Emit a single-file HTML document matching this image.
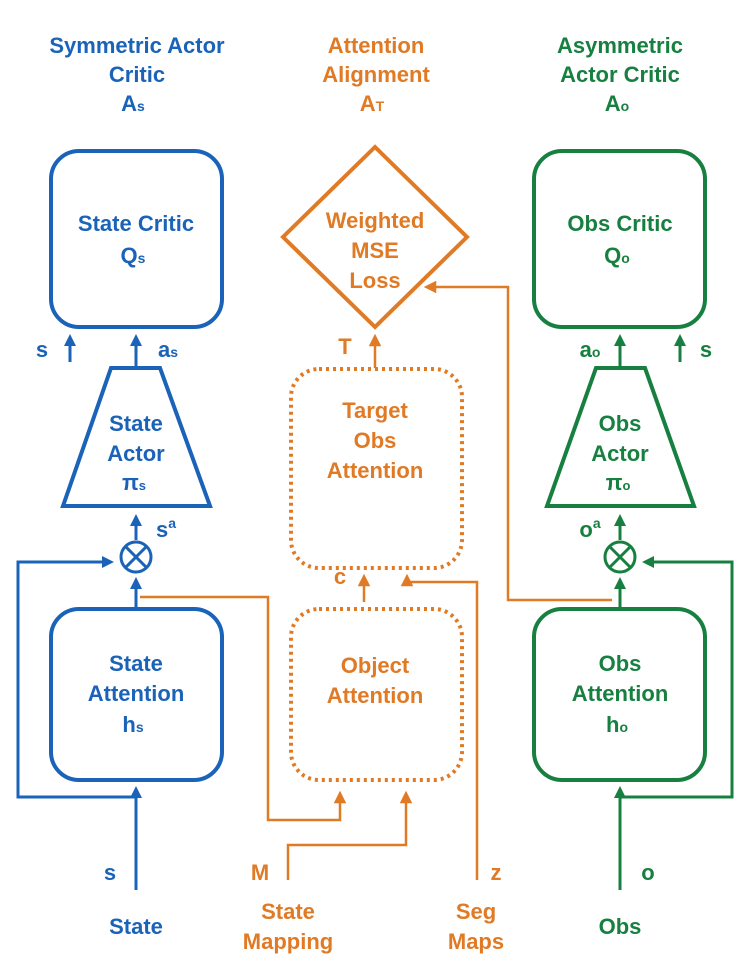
<!DOCTYPE html>
<html><head><meta charset="utf-8"><style>
html,body{margin:0;padding:0;background:#fff;width:750px;height:975px;overflow:hidden}
svg{display:block}
text{font-family:"Liberation Sans",sans-serif;font-weight:bold;font-size:22px;text-anchor:middle}
.b{fill:#1a63b8}.o{fill:#e07a24}.g{fill:#178040}
.sb{stroke:#1a63b8}.so{stroke:#e07a24}.sg{stroke:#178040}
</style></head><body>
<svg width="750" height="975" viewBox="0 0 750 975">
<defs>
<marker id="ab" markerWidth="4" markerHeight="4" refX="2" refY="2" orient="auto" markerUnits="strokeWidth"><path d="M0,0L4,2L0,4z" fill="#1a63b8"/></marker>
<marker id="ao" markerWidth="5" markerHeight="5" refX="2.5" refY="2.5" orient="auto" markerUnits="strokeWidth"><path d="M0,0L5,2.5L0,5z" fill="#e07a24"/></marker>
<marker id="ag" markerWidth="4" markerHeight="4" refX="2" refY="2" orient="auto" markerUnits="strokeWidth"><path d="M0,0L4,2L0,4z" fill="#178040"/></marker>
</defs>
<!-- titles -->
<text class="b" x="137" y="53">Symmetric Actor</text>
<text class="b" x="137" y="82">Critic</text>
<text class="b" x="133" y="111">A<tspan font-size="14">s</tspan></text>
<text class="o" x="376" y="53">Attention</text>
<text class="o" x="376" y="82">Alignment</text>
<text class="o" x="372" y="111">A<tspan font-size="14">T</tspan></text>
<text class="g" x="620" y="53">Asymmetric</text>
<text class="g" x="620" y="82">Actor Critic</text>
<text class="g" x="617" y="111">A<tspan font-size="14">o</tspan></text>

<g fill="none" stroke-width="4">
<!-- left column -->
<rect class="sb" x="51" y="151" width="171" height="176" rx="28"/>
<path class="sb" d="M111,368H160L210,506H63Z"/>
<circle class="sb" cx="136" cy="557" r="15" stroke-width="3"/>
<path class="sb" d="M125,546L147,568M147,546L125,568" stroke-width="3"/>
<rect class="sb" x="51" y="609" width="171" height="171" rx="28"/>
<g stroke-width="3">
<path class="sb" d="M70,362V340" marker-end="url(#ab)"/>
<path class="sb" d="M136,366V340" marker-end="url(#ab)"/>
<path class="sb" d="M136,540V520" marker-end="url(#ab)"/>
<path class="sb" d="M136,607V583" marker-end="url(#ab)"/>
<path class="sb" d="M136,890V792" marker-end="url(#ab)"/>
<path class="sb" d="M136,797H18V562H108" marker-end="url(#ab)"/>
</g>
<!-- middle -->
<path class="so" d="M375,147L467,237L375,327L283,237Z"/>
<rect class="so" x="291" y="369" width="171" height="199" rx="28" stroke-dasharray="3 4"/>
<rect class="so" x="291" y="609" width="171" height="171" rx="28" stroke-dasharray="3 4"/>
<g stroke-width="2.5">
<path class="so" d="M375,368V340" marker-end="url(#ao)"/>
<path class="so" d="M364,602V580" marker-end="url(#ao)"/>
<path class="so" d="M477,880V582H407V580" />
<path class="so" d="M407,584V580" marker-end="url(#ao)"/>
<path class="so" d="M140,597H268V820H340V797" marker-end="url(#ao)"/>
<path class="so" d="M288,880V845H406V797" marker-end="url(#ao)"/>
<path class="so" d="M612,600H508V287H430" marker-end="url(#ao)"/>
</g>
<!-- right -->
<rect class="sg" x="534" y="151" width="171" height="176" rx="28"/>
<path class="sg" d="M596,368H645L694,506H547Z"/>
<circle class="sg" cx="620" cy="557" r="15" stroke-width="3"/>
<path class="sg" d="M609,546L631,568M631,546L609,568" stroke-width="3"/>
<rect class="sg" x="534" y="609" width="171" height="171" rx="28"/>
<g stroke-width="3">
<path class="sg" d="M620,366V340" marker-end="url(#ag)"/>
<path class="sg" d="M680,362V340" marker-end="url(#ag)"/>
<path class="sg" d="M620,540V520" marker-end="url(#ag)"/>
<path class="sg" d="M620,607V583" marker-end="url(#ag)"/>
<path class="sg" d="M620,890V792" marker-end="url(#ag)"/>
<path class="sg" d="M620,797H732V562H648" marker-end="url(#ag)"/>
</g>
</g>

<!-- box labels -->
<text class="b" x="136" y="231">State Critic</text>
<text class="b" x="133" y="263">Q<tspan font-size="14">s</tspan></text>
<text class="b" x="136" y="431">State</text>
<text class="b" x="136" y="461">Actor</text>
<text class="b" x="134" y="490" font-size="18">π<tspan font-size="13">s</tspan></text>
<text class="b" x="42" y="357">s</text>
<text class="b" x="168" y="357">a<tspan font-size="14">s</tspan></text>
<text class="b" x="166" y="537">s<tspan font-size="14" dy="-9">a</tspan></text>
<text class="b" x="136" y="671">State</text>
<text class="b" x="136" y="701">Attention</text>
<text class="b" x="133" y="732">h<tspan font-size="14">s</tspan></text>
<text class="b" x="110" y="880">s</text>
<text class="b" x="136" y="934">State</text>

<text class="o" x="375" y="228">Weighted</text>
<text class="o" x="375" y="258">MSE</text>
<text class="o" x="375" y="288">Loss</text>
<text class="o" x="345" y="354">T</text>
<text class="o" x="375" y="418">Target</text>
<text class="o" x="375" y="448">Obs</text>
<text class="o" x="375" y="478">Attention</text>
<text class="o" x="340" y="584">c</text>
<text class="o" x="375" y="673">Object</text>
<text class="o" x="375" y="703">Attention</text>
<text class="o" x="260" y="880">M</text>
<text class="o" x="496" y="880">z</text>
<text class="o" x="288" y="919">State</text>
<text class="o" x="288" y="949">Mapping</text>
<text class="o" x="476" y="919">Seg</text>
<text class="o" x="476" y="949">Maps</text>

<text class="g" x="620" y="231">Obs Critic</text>
<text class="g" x="617" y="263">Q<tspan font-size="14">o</tspan></text>
<text class="g" x="620" y="431">Obs</text>
<text class="g" x="620" y="461">Actor</text>
<text class="g" x="618" y="490" font-size="18">π<tspan font-size="13">o</tspan></text>
<text class="g" x="590" y="357">a<tspan font-size="14">o</tspan></text>
<text class="g" x="706" y="357">s</text>
<text class="g" x="590" y="537">o<tspan font-size="14" dy="-9">a</tspan></text>
<text class="g" x="620" y="671">Obs</text>
<text class="g" x="620" y="701">Attention</text>
<text class="g" x="617" y="732">h<tspan font-size="14">o</tspan></text>
<text class="g" x="648" y="880">o</text>
<text class="g" x="620" y="934">Obs</text>
</svg>
</body></html>
